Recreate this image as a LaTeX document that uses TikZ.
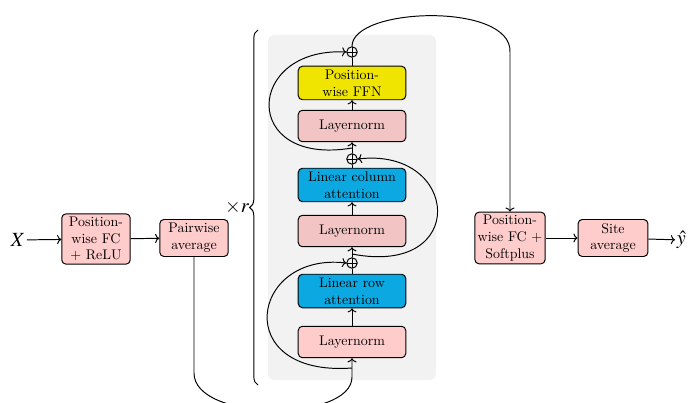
\documentclass[tikz,border=0pt]{standalone}
\usepackage{mathptmx}
\usetikzlibrary{positioning,arrows.meta,decorations.pathreplacing,calc}
\definecolor{boxpink}{RGB}{255,204,204}
\definecolor{normpink}{RGB}{242,196,196}
\definecolor{attblue}{RGB}{12,168,226}
\definecolor{ffnyellow}{RGB}{240,229,0}
\tikzset{
  every picture/.style={line width=0.7pt},
  blk/.style={draw,rounded corners=3pt,align=center,inner sep=2pt,minimum width=49pt,minimum height=26.5pt,fill=boxpink},
  sblk/.style={draw,rounded corners=3pt,align=center,inner sep=2pt,minimum width=77pt,minimum height=22.5pt},
  addop/.style={draw,circle,minimum size=7.5pt,inner sep=0,
    path picture={\draw (path picture bounding box.north) -- (path picture bounding box.south)
      (path picture bounding box.west) -- (path picture bounding box.east);}},
  flow/.style={-{To[length=3pt,width=6.5pt]}},
  lbl/.style={inner sep=1pt,font=\Large},
}

\begin{document}
\begin{tikzpicture}[x=0.716pt,y=0.716pt]
\clip (0,0) rectangle (688,402);
% repeated block background
\fill[gray!10,rounded corners=4pt] (268,22) rectangle (436,367);
\draw[decorate,decoration={brace,amplitude=6pt}] (258,17) -- (258,372);
\node[lbl,anchor=east] (rep) at (251,195) {$\times r$};
% input side
\node[lbl] (X) at (18,162) {$X$};
\node[blk,minimum height=36pt] (FC) at (96,163) {Position-\\wise FC\\+ ReLU};
\node[blk] (PA) at (194,164) {Pairwise\\average};
\draw[flow] (X) -- (FC);
\draw[flow] (FC) -- (PA);
% stack
\node[sblk,fill=boxpink] (LN1) at (352,60) {Layernorm};
\node[sblk,fill=attblue,minimum height=24pt] (ROW) at (352,111) {Linear row\\attention};
\node[addop] (AD1) at (352,139) {};
\node[sblk,fill=normpink] (LN2) at (352,171) {Layernorm};
\node[sblk,fill=attblue,minimum height=24pt] (COL) at (352,217) {Linear column\\attention};
\node[addop] (AD2) at (352,243) {};
\node[sblk,fill=normpink] (LN3) at (352,276) {Layernorm};
\node[sblk,fill=ffnyellow,minimum height=24pt] (FFN) at (352,319) {Position-\\wise FFN};
\node[addop] (AD3) at (352,350) {};
\draw[flow] (LN1) -- (ROW);
\draw (ROW) -- (AD1);
\draw[flow] (AD1) -- (LN2);
\draw[flow] (LN2) -- (COL);
\draw (COL) -- (AD2);
\draw[flow] (AD2) -- (LN3);
\draw[flow] (LN3) -- (FFN);
\draw (FFN) -- (AD3);
% feed into the stack
\coordinate (b1) at (194,29);
\coordinate (b2) at (352,25);
\draw[flow] (PA.south) -- (b1) .. controls (194,-20) and (352,-20) .. (b2) -- (LN1.south);
% residuals
\coordinate (r1) at (352,34);
\coordinate (r2) at (352,148);
\coordinate (r3) at (352,254);
\draw[flow] (r1) .. controls (230,25) and (250,150) .. (AD1.west);
\draw[flow] (r2) .. controls (470,125) and (460,255) .. (AD2.east);
\draw[flow] (r3) .. controls (240,235) and (245,355) .. (AD3.west);
% output side
\node[blk,minimum width=50pt,minimum height=37pt] (FCS) at (510,164) {Position-\\wise FC +\\Softplus};
\node[blk,minimum width=50pt] (SA) at (613,164) {Site\\average};
\node[lbl,anchor=west] (Y) at (675,162) {$\hat{y}$};
\coordinate (t1) at (510,350);
\draw[flow] (AD3.north) .. controls (352,395) and (512,400) .. (t1) -- (FCS.north);
\draw[flow] (FCS) -- (SA);
\draw[flow] (SA) -- (Y);
\end{tikzpicture}
\end{document}
